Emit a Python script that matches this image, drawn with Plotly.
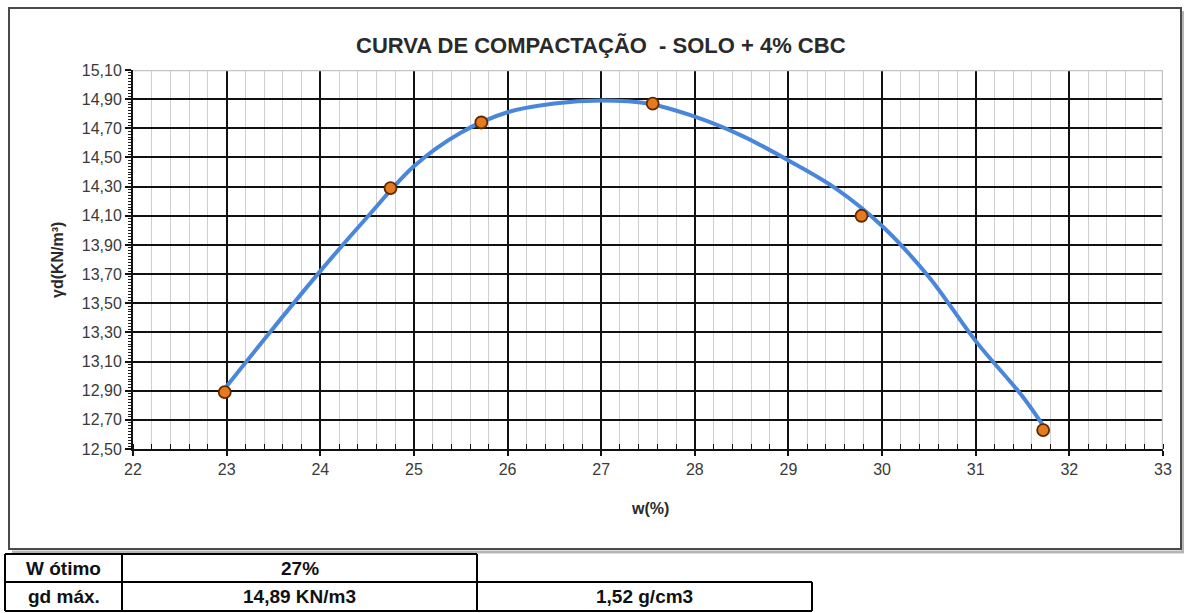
import plotly.graph_objects as go

# ---------------- data ----------------
w_points = [22.98, 24.75, 25.72, 27.55, 29.78, 31.72]
gd_points = [12.89, 14.29, 14.74, 14.87, 14.10, 12.63]

# trend curve as drawn in the reference
trend_w = [23.0, 23.5, 24.0, 24.5, 25.0, 25.5, 26.0, 26.5, 27.0, 27.5,
           28.0, 28.5, 29.0, 29.5, 30.0, 30.5, 31.0, 31.5, 31.72]
trend_gd = [12.93, 13.33, 13.72, 14.09, 14.44, 14.67, 14.81, 14.87, 14.89, 14.87,
            14.78, 14.65, 14.48, 14.29, 14.03, 13.68, 13.24, 12.86, 12.66]

x_ticks = [22, 23, 24, 25, 26, 27, 28, 29, 30, 31, 32, 33]
y_ticks = [12.5, 12.7, 12.9, 13.1, 13.3, 13.5, 13.7, 13.9, 14.1, 14.3, 14.5, 14.7, 14.9, 15.1]

title_text = "CURVA DE COMPACTAÇÃO  - SOLO + 4% CBC"
x_title = "w(%)"
y_title = "γd(KN/m³)"

table_labels = ["W ótimo", "gd máx."]
table_col2 = ["27%", "14,89 KN/m3"]
table_col3 = ["", "1,52 g/cm3"]

# ---------------- layout geometry (pixels) ----------------
W, H = 1184, 613
L, R, T, B = 133, 1163, 70, 449
PW, PH = R - L, B - T


def px(x):
    return (x - L) / PW


def py(y):
    return (B - y) / PH


FONT = "Liberation Sans, Arial, sans-serif"

fig = go.Figure()
fig.add_trace(go.Scatter(
    x=trend_w, y=trend_gd, mode="lines", line=dict(color="#4A86DA", width=4, shape="spline"),
    hoverinfo="skip"))
fig.add_trace(go.Scatter(
    x=w_points, y=gd_points, mode="markers",
    marker=dict(size=12, color="#E57A1E", line=dict(color="#5E2A00", width=1.8))))

fig.update_layout(
    width=W, height=H,
    margin=dict(l=L, r=W - R, t=T, b=H - B, pad=0),
    paper_bgcolor="white", plot_bgcolor="white",
    separators=",.",
    showlegend=False,
    font=dict(family=FONT, size=16, color="#3a3a3a"),
)

fig.update_xaxes(
    range=[22, 33], tickvals=x_ticks, ticktext=[str(v) for v in x_ticks],
    showgrid=True, gridcolor="#111111", gridwidth=1.5,
    showline=True, linecolor="#111111", linewidth=2,
    ticks="outside", ticklen=5, tickcolor="#111111", tickwidth=1.5,
    tickfont=dict(size=16, color="#3a3a3a"),
    zeroline=False,
    minor=dict(dtick=0.2, showgrid=True, gridcolor="#cfcfcf", gridwidth=1,
               ticks="inside", ticklen=5, tickcolor="#111111", tickwidth=1),
)
fig.update_yaxes(
    range=[12.5, 15.1], tickvals=y_ticks, tickformat=".2f",
    showgrid=True, gridcolor="#111111", gridwidth=2,
    showline=True, linecolor="#111111", linewidth=2,
    ticks="outside", ticklen=6, tickcolor="#111111", tickwidth=1.5,
    tickfont=dict(size=16, color="#3a3a3a"),
    zeroline=False,
    minor=dict(dtick=0.02, showgrid=False, ticks="outside", ticklen=3,
               tickcolor="#222222", tickwidth=1),
)

shapes = []
# light grey top / right plot borders
shapes.append(dict(type="line", xref="x", yref="y", x0=22, x1=33, y0=15.1, y1=15.1,
                   line=dict(color="#c4c4c4", width=2.5), layer="above"))
shapes.append(dict(type="line", xref="x", yref="y", x0=33, x1=33, y0=12.5, y1=15.1,
                   line=dict(color="#c4c4c4", width=2.5), layer="above"))

# chart outer box with shadow
shapes.append(dict(type="line", xref="paper", yref="paper", x0=px(1183), x1=px(1183),
                   y0=py(11), y1=py(552), line=dict(color="#b5b5b5", width=3)))
shapes.append(dict(type="line", xref="paper", yref="paper", x0=px(12), x1=px(1184),
                   y0=py(552), y1=py(552), line=dict(color="#b5b5b5", width=3)))
shapes.append(dict(type="rect", xref="paper", yref="paper", x0=px(9), x1=px(1181),
                   y0=py(8), y1=py(549), line=dict(color="#4a4a4a", width=2)))

# table below the chart
ty0, ty1, ty2 = 554, 582, 611
cx0, cx1, cx2, cx3 = 5, 122, 477, 812
tbl = dict(color="#000000", width=2)
segs = [
    (cx0, ty0, cx2, ty0), (cx0, ty1, cx3, ty1), (cx0, ty2, cx3, ty2),
    (cx0, ty0, cx0, ty2), (cx1, ty0, cx1, ty2), (cx2, ty0, cx2, ty2), (cx3, ty1, cx3, ty2),
]
for a, b, c, d in segs:
    shapes.append(dict(type="line", xref="paper", yref="paper", x0=px(a), y0=py(b),
                       x1=px(c), y1=py(d), line=tbl))
fig.update_layout(shapes=shapes)

ann = []
ann.append(dict(text="<b>" + title_text.replace("  ", "&nbsp; ") + "</b>", xref="paper", yref="paper",
                x=px(601), y=py(45), showarrow=False, xanchor="center", yanchor="middle",
                font=dict(size=22, color="#2a2a2a", family=FONT)))
ann.append(dict(text="<b>" + x_title + "</b>", xref="paper", yref="paper",
                x=px(650), y=py(508), showarrow=False, xanchor="center", yanchor="middle",
                font=dict(size=16, color="#2a2a2a", family=FONT)))
ann.append(dict(text="<b>" + y_title + "</b>", xref="paper", yref="paper", textangle=-90,
                x=px(57), y=py(260), showarrow=False, xanchor="center", yanchor="middle",
                font=dict(size=16, color="#2a2a2a", family=FONT)))

rows_y = [(ty0 + ty1) / 2, (ty1 + ty2) / 2]
col_x = [(cx0 + cx1) / 2, (cx1 + cx2) / 2, (cx2 + cx3) / 2]
for i in range(2):
    for j, txt in enumerate([table_labels[i], table_col2[i], table_col3[i]]):
        if not txt:
            continue
        ann.append(dict(text="<b>" + txt + "</b>", xref="paper", yref="paper",
                        x=px(col_x[j]), y=py(rows_y[i]), showarrow=False,
                        xanchor="center", yanchor="middle",
                        font=dict(size=19, color="#111111", family=FONT)))
fig.update_layout(annotations=ann)

fig.write_html("out.html", config={"displayModeBar": False},
               post_script="document.body.style.margin='0';document.body.style.overflow='hidden';")
